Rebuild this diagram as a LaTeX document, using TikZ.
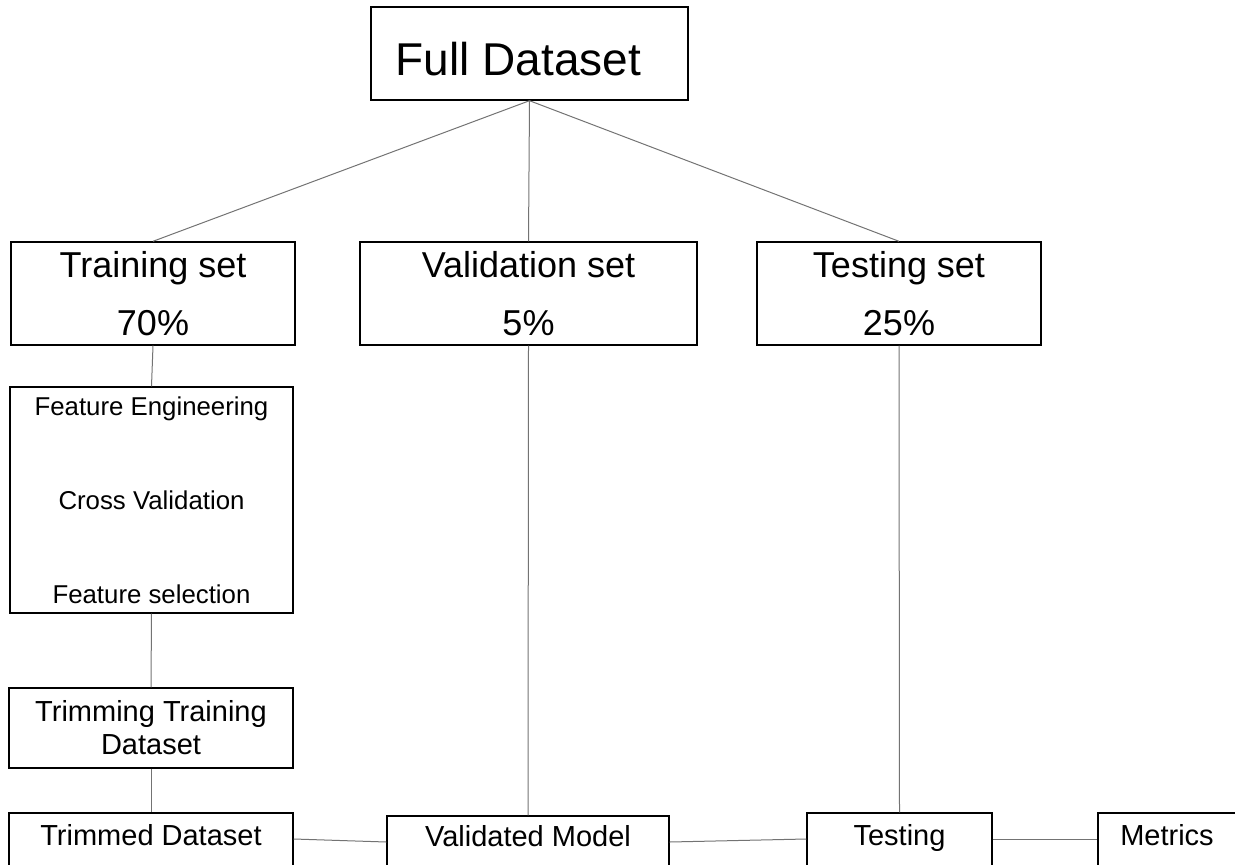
\documentclass[tikz,border=0pt]{standalone}
\usepackage{fontspec}
\setmainfont{Liberation Sans}
\begin{document}
\begin{tikzpicture}[x=1pt,y=-1pt,
  box/.style={draw=black, line width=1.4pt, inner sep=0pt},
  conn/.style={draw=black!55, line width=1pt},
  bigfont/.style={font=\fontsize{46}{50}\selectfont},
  setfont/.style={font=\fontsize{36}{58}\selectfont, align=center},
  featfont/.style={font=\fontsize{25.8}{94}\selectfont, align=center},
  trimfont/.style={font=\fontsize{29}{33}\selectfont, align=center},
  lowbox/.style={box, font=\fontsize{29}{33}\selectfont, text height=32pt, text depth=47pt},
]
\useasboundingbox (0,0) rectangle (1235,865);

\node[box, bigfont, minimum width=317pt, minimum height=93pt, text height=68pt, text depth=25pt] (full) at (529.5,53.5) {Full Dataset\kern22pt\relax};

\node[box, setfont, minimum width=284pt, minimum height=103pt] (train) at (153,293.5) {Training set\\70\%};
\node[box, setfont, minimum width=337pt, minimum height=103pt] (valset) at (528.5,293.5) {Validation set\\5\%};
\node[box, setfont, minimum width=284pt, minimum height=103pt] (testset) at (899,293.5) {Testing set\\25\%};

\node[box, featfont, minimum width=283pt, minimum height=226pt] (feat) at (151.5,500) {Feature Engineering\\Cross Validation\\Feature selection};

\node[box, trimfont, minimum width=284pt, minimum height=80pt] (trimming) at (151,728) {Trimming Training\\Dataset};

\node[lowbox, minimum width=284pt] (trimmed) at (151,852.5) {Trimmed Dataset};
\node[lowbox, minimum width=282pt, text height=30pt, text depth=49pt] (valmodel) at (528,855.5) {Validated Model};
\node[lowbox, minimum width=185pt] (testing) at (899.5,852.5) {Testing};
\node[lowbox, minimum width=138pt] (metrics) at (1167,852.5) {Metrics};

\draw[conn] (full.south) -- (train.north);
\draw[conn] (full.south) -- (valset.north);
\draw[conn] (full.south) -- (testset.north);
\draw[conn] (train.south) -- (feat.north);
\draw[conn] (feat.south) -- (trimming.north);
\draw[conn] (trimming.south) -- (trimmed.north);
\draw[conn] (valset.south) -- (valmodel.north);
\draw[conn] (testset.south) -- (testing.north);
\draw[conn] ([yshift=13.5pt]trimmed.east) -- ([yshift=13.5pt]valmodel.west);
\draw[conn] ([yshift=13.5pt]valmodel.east) -- ([yshift=13.5pt]testing.west);
\draw[conn] ([yshift=13.5pt]testing.east) -- ([yshift=13.5pt]metrics.west);
\end{tikzpicture}
\end{document}
